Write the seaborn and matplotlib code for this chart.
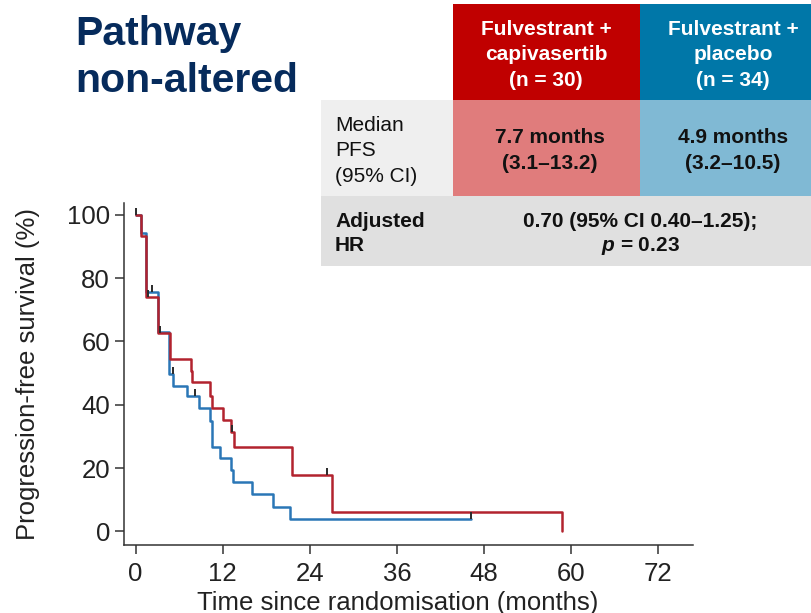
import matplotlib
matplotlib.use("Agg")
import matplotlib.pyplot as plt
from matplotlib.patches import Rectangle
from matplotlib.markers import MarkerStyle
import seaborn as sns
import pandas as pd

W, H, DPI = 811, 613, 100

# Kaplan–Meier steps: months since randomisation, % progression-free
capi_time = [0, 0.8, 1.4, 3.1, 4.7, 7.6, 7.8, 10.3, 10.5, 12.1, 13.2, 13.5, 21.6, 27.0, 58.8]
capi_surv = [100, 93.3, 74.0, 62.5, 54.4, 50.7, 47.1, 42.9, 39.0, 35.2, 31.3, 26.6, 17.7, 6.0, 0.0]
capi_cens_time = [0.1, 1.7, 3.3, 13.3, 26.4]
capi_cens_surv = [100, 74.0, 62.5, 31.3, 17.7]

plac_time = [0, 0.8, 1.4, 3.1, 4.6, 5.2, 7.1, 8.7, 10.3, 10.5, 11.6, 13.1, 13.4, 16.0, 18.9, 21.3, 46.2]
plac_surv = [100, 94.1, 75.6, 63.0, 49.7, 46.0, 42.7, 39.0, 35.0, 26.8, 23.3, 19.3, 15.6, 11.7, 7.8, 3.9, 3.9]
plac_cens_time = [2.2, 5.1, 8.2, 46.2]
plac_cens_surv = [75.6, 49.7, 42.7, 3.9]

x_ticks = [0, 12, 24, 36, 48, 60, 72]
y_ticks = [0, 20, 40, 60, 80, 100]

title_lines = ["Pathway", "non-altered"]
arm_headers = [["Fulvestrant +", "capivasertib", "(n = 30)"],
               ["Fulvestrant +", "placebo", "(n = 34)"]]
median_label = ["Median", "PFS", "(95% CI)"]
median_values = [["7.7 months", "(3.1\u201313.2)"],
                 ["4.9 months", "(3.2\u201310.5)"]]
hr_label = ["Adjusted", "HR"]
hr_lines = ["0.70 (95% CI 0.40\u20131.25);", "$p$ = 0.23"]

RED_LINE = "#b2232e"
BLUE_LINE = "#2a76b6"
RED_HEAD = "#c00000"
BLUE_HEAD = "#0077a8"
RED_LIGHT = "#e07c7c"
BLUE_LIGHT = "#80b9d4"
GREY_LIGHT = "#efefef"
GREY_MID = "#e0e0e0"
NAVY = "#062b5c"

sns.set_theme(style="ticks")
plt.rcParams["font.family"] = ["Liberation Sans", "DejaVu Sans"]
plt.rcParams["mathtext.fontset"] = "custom"
plt.rcParams["mathtext.it"] = "Liberation Sans:italic:bold"
plt.rcParams["mathtext.rm"] = "Liberation Sans:bold"

fig = plt.figure(figsize=(W / DPI, H / DPI), dpi=DPI)


def fx(px):
    return px / W


def fy(py):
    return 1 - py / H


# plot area
ax_l, ax_r, ax_t, ax_b = 124, 693, 203, 545
ax = fig.add_axes([fx(ax_l), fy(ax_b), fx(ax_r - ax_l), (ax_b - ax_t) / H])

capi = pd.DataFrame({"t": capi_time, "s": capi_surv})
plac = pd.DataFrame({"t": plac_time, "s": plac_surv})
sns.lineplot(data=plac, x="t", y="s", ax=ax, color=BLUE_LINE, linewidth=1.8,
             drawstyle="steps-post", estimator=None, sort=False, zorder=2)
sns.lineplot(data=capi, x="t", y="s", ax=ax, color=RED_LINE, linewidth=1.8,
             drawstyle="steps-post", estimator=None, sort=False, zorder=3)

tick_up = MarkerStyle([(0, 0), (0, 1)])
cens = pd.DataFrame({"t": capi_cens_time + plac_cens_time,
                     "s": capi_cens_surv + plac_cens_surv})
sns.scatterplot(data=cens, x="t", y="s", ax=ax, marker=tick_up, s=110,
                color="#2a2a2a", edgecolor="#2a2a2a", linewidth=1.4, zorder=4)

ax.set_xlim(-1.6, 76.8)
ax.set_ylim(-4.3, 103.7)
ax.set_xticks(x_ticks)
ax.set_yticks(y_ticks)
sns.despine(ax=ax)
for sp in ("left", "bottom"):
    ax.spines[sp].set_color("#333333")
    ax.spines[sp].set_linewidth(1.1)
ax.tick_params(axis="both", length=6.5, width=1.1, color="#333333",
               labelsize=18.5, labelcolor="#222222")
ax.tick_params(axis="x", pad=6)
ax.tick_params(axis="y", pad=3.6)
ax.set_xlabel("Time since randomisation (months)", fontsize=18.5,
              color="#222222", labelpad=3)
ax.set_ylabel("Progression-free survival (%)", fontsize=18.5,
              color="#222222", labelpad=19)
ax.xaxis.label.set_x((397.5 - ax_l) / (ax_r - ax_l))
ax.set_facecolor("white")


def box(x0, y0, x1, y1, color):
    fig.patches.append(Rectangle((fx(x0), fy(y1)), fx(x1 - x0), (y1 - y0) / H,
                                 transform=fig.transFigure, facecolor=color,
                                 edgecolor="none", zorder=5))


def lines(x, baselines, texts, ha="center", **kw):
    for b, t in zip(baselines, texts):
        fig.text(fx(x), fy(b), t, ha=ha, va="baseline", zorder=6, **kw)


# summary table
box(453, 4, 640, 100, RED_HEAD)
box(640, 4, 811, 100, BLUE_HEAD)
box(321, 100, 453, 196, GREY_LIGHT)
box(453, 100, 640, 196, RED_LIGHT)
box(640, 100, 811, 196, BLUE_LIGHT)
box(321, 196, 811, 266, GREY_MID)

head_kw = dict(color="white", fontsize=15, fontweight="bold")
lines(546, [35, 60.5, 86], arm_headers[0], **head_kw)
lines(733, [35, 60.5, 86], arm_headers[1], **head_kw)

lines(335, [130.7, 155.7, 181.7], median_label, ha="left",
      color="#111111", fontsize=15)
val_kw = dict(color="#111111", fontsize=15, fontweight="bold")
lines(550, [143.3, 169.3], median_values[0], **val_kw)
lines(733, [143.3, 169.3], median_values[1], **val_kw)

lines(335, [226.7, 250.7], hr_label, ha="left", **val_kw)
lines(640, [226.7, 250.7], hr_lines, **val_kw)

# panel title
lines(75, [45, 91.7], title_lines, ha="left", color=NAVY, fontsize=29.5,
      fontweight="bold")

fig.savefig("out.png", dpi=DPI)
